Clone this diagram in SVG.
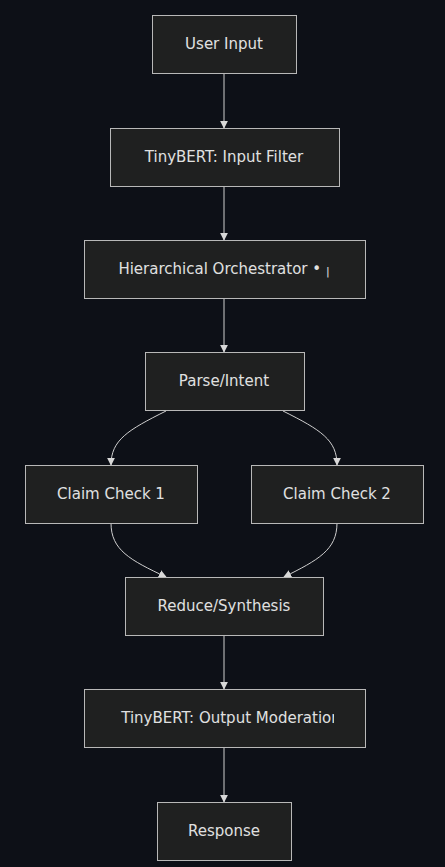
<svg xmlns="http://www.w3.org/2000/svg" width="445" height="867" viewBox="0 0 445 867">
<style>
.bg{fill:#0d1017}
.node rect{fill:#1f2020;stroke:#b8b8b8;stroke-width:1}
.node text{fill:#e0e0e0;font-family:"DejaVu Sans",Verdana,sans-serif;font-size:15px;text-anchor:middle;dominant-baseline:central}
.edge{fill:none;stroke:#cfcfcf;stroke-width:1;marker-end:url(#arr)}
</style>
<defs>
<marker id="arr" viewBox="0 0 10 10" refX="9" refY="5" markerWidth="8" markerHeight="8" orient="auto" markerUnits="userSpaceOnUse">
<path d="M0,0 L10,5 L0,10 z" fill="#d8d8d8"/>
</marker>
<clipPath id="c1"><rect x="84" y="240" width="250" height="58"/></clipPath>
<clipPath id="c2"><rect x="84" y="689" width="250" height="58"/></clipPath>
</defs>
<rect class="bg" x="0" y="0" width="445" height="867"/>
<g id="connectors">
<path class="edge" d="M224,73 L224,128"/>
<path class="edge" d="M224,186 L224,240"/>
<path class="edge" d="M224,298 L224,352"/>
<path class="edge" d="M166,411 C128,430 111,440 111,465"/>
<path class="edge" d="M283,411 C321,430 337,440 337,465"/>
<path class="edge" d="M111,523 C111,550 130,560 166,577"/>
<path class="edge" d="M337,523 C337,550 318,560 284,577"/>
<path class="edge" d="M224,635 L224,689"/>
<path class="edge" d="M224,747 L224,802"/>
</g>
<g id="n1" class="node"><rect x="152.5" y="15.5" width="144" height="58"/><text x="224" y="44">User Input</text></g>
<g id="n2" class="node"><rect x="110.5" y="128.5" width="229" height="58"/><text x="224" y="157">TinyBERT: Input Filter</text></g>
<g id="n3" class="node"><rect x="84.5" y="240.5" width="281" height="58"/><text x="224" y="269" clip-path="url(#c1)">Hierarchical Orchestrator • <tspan font-size="11" dy="2">|</tspan></text></g>
<g id="n4" class="node"><rect x="145.5" y="352.5" width="159" height="58"/><text x="224" y="381">Parse/Intent</text></g>
<g id="n5" class="node"><rect x="25.5" y="465.5" width="172" height="58"/><text x="111" y="494">Claim Check 1</text></g>
<g id="n6" class="node"><rect x="251.5" y="465.5" width="172" height="58"/><text x="337" y="494">Claim Check 2</text></g>
<g id="n7" class="node"><rect x="125.5" y="577.5" width="198" height="58"/><text x="224" y="606">Reduce/Synthesis</text></g>
<g id="n8" class="node"><rect x="84.5" y="689.5" width="281" height="58"/><text x="231" y="718" clip-path="url(#c2)">TinyBERT: Output Moderation</text></g>
<g id="n9" class="node"><rect x="157.5" y="802.5" width="134" height="58"/><text x="224" y="831">Response</text></g>
</svg>
